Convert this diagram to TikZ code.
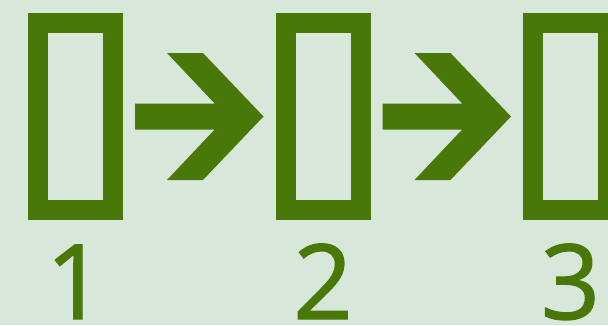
\documentclass[tikz,border=0pt]{standalone}
\usepackage{fontspec}
\setmainfont{Open Sans}
\newfontfamily\numfont{Open Sans}[RawFeature={embolden=1.2}]
\usetikzlibrary{calc}
\definecolor{leafgreen}{RGB}{74,120,8}
\definecolor{mintbg}{RGB}{215,232,219}
\tikzset{
  stagebox/.style={draw=leafgreen, line width=20pt, minimum width=75pt, minimum height=187pt, inner sep=0pt},
  stagenum/.style={text=leafgreen, anchor=base, inner sep=0pt, font=\numfont\fontsize{104}{104}\selectfont}
}
\begin{document}
\begin{tikzpicture}[x=1pt,y=1pt]
    \useasboundingbox (0,0) rectangle (608,325);
    \clip (0,0) rectangle (608,325);
    \fill[mintbg] (0,0) rectangle (608,325);
    % the three boxes
    \node[stagebox] (box1) at (75.5,208.5) {};
    \node[stagebox] (box2) at (323,208.5) {};
    \node[stagebox] (box3) at (570.5,208.5) {};
    % their numbers
    \node[stagenum] (num1) at (75.5,6) {1};
    \node[stagenum] (num2) at (323,6) {2};
    \node[stagenum] (num3) at (570.5,6) {3};
    % fat arrows between the boxes
    \fill[leafgreen] ($(box1.east)+(12,13)$) -- ($(box1.east)+(91.7,13)$) -- ($(box1.east)+(44,63.5)$)
        -- ($(box1.east)+(80,63.5)$) -- ($(box2.west)+(-12,0)$) -- ($(box1.east)+(80,-63.5)$)
        -- ($(box1.east)+(44,-63.5)$) -- ($(box1.east)+(91.7,-13)$) -- ($(box1.east)+(12,-13)$) -- cycle;
    \fill[leafgreen] ($(box2.east)+(12,13)$) -- ($(box2.east)+(91.7,13)$) -- ($(box2.east)+(44,63.5)$)
        -- ($(box2.east)+(80,63.5)$) -- ($(box3.west)+(-12,0)$) -- ($(box2.east)+(80,-63.5)$)
        -- ($(box2.east)+(44,-63.5)$) -- ($(box2.east)+(91.7,-13)$) -- ($(box2.east)+(12,-13)$) -- cycle;
\end{tikzpicture}
\end{document}
